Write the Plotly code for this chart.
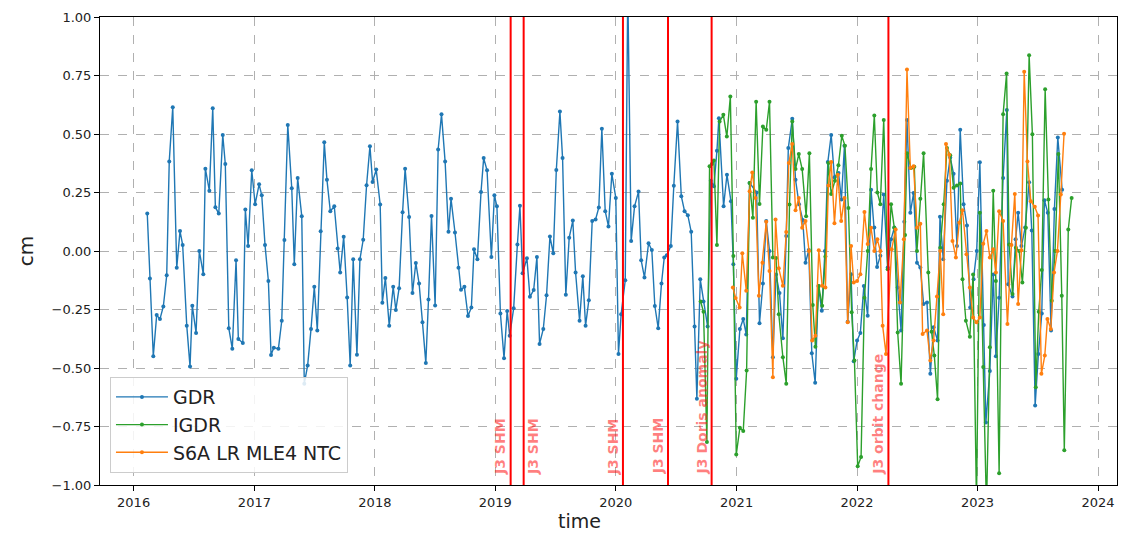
import datetime as dt
import plotly.graph_objects as go

# ---------------- data (decimal years, cm) ----------------
gdr_t = [2016.113, 2016.135, 2016.163, 2016.191, 2016.218, 2016.246, 2016.274, 2016.295, 2016.324, 2016.357,
         2016.384, 2016.406, 2016.440, 2016.467, 2016.486, 2016.517, 2016.544, 2016.577, 2016.594, 2016.627,
         2016.655, 2016.677, 2016.705, 2016.738, 2016.759, 2016.788, 2016.817, 2016.848, 2016.867, 2016.904,
         2016.925, 2016.948, 2016.978, 2017.006, 2017.039, 2017.061, 2017.088, 2017.116, 2017.138, 2017.161,
         2017.199, 2017.227, 2017.249, 2017.277, 2017.310, 2017.331, 2017.359, 2017.393, 2017.414, 2017.442,
         2017.470, 2017.497, 2017.522, 2017.550, 2017.580, 2017.602, 2017.630, 2017.663, 2017.691, 2017.712,
         2017.741, 2017.770, 2017.795, 2017.820, 2017.851, 2017.876, 2017.903, 2017.931, 2017.959, 2017.981,
         2018.011, 2018.044, 2018.062, 2018.087, 2018.119, 2018.152, 2018.174, 2018.201, 2018.230, 2018.251,
         2018.284, 2018.312, 2018.340, 2018.367, 2018.395, 2018.423, 2018.445, 2018.470, 2018.500, 2018.525,
         2018.553, 2018.583, 2018.611, 2018.632, 2018.665, 2018.694, 2018.715, 2018.743, 2018.773, 2018.801,
         2018.823, 2018.851, 2018.881, 2018.903, 2018.931, 2018.967, 2018.992, 2019.013, 2019.042, 2019.072,
         2019.098, 2019.119, 2019.152, 2019.183, 2019.204, 2019.226, 2019.262, 2019.287, 2019.318, 2019.345,
         2019.367, 2019.398, 2019.425, 2019.453, 2019.481, 2019.506, 2019.536, 2019.558, 2019.585, 2019.613,
         2019.643, 2019.666, 2019.699, 2019.726, 2019.749, 2019.776, 2019.804, 2019.832, 2019.859, 2019.884,
         2019.912, 2019.939, 2019.967, 2020.000, 2020.022, 2020.044, 2020.078, 2020.099, 2020.127, 2020.155,
         2020.188, 2020.210, 2020.237, 2020.271, 2020.298, 2020.323, 2020.351, 2020.378, 2020.401, 2020.422,
         2020.455, 2020.480, 2020.511, 2020.542, 2020.569, 2020.596, 2020.624, 2020.652, 2020.671, 2020.699,
         2020.726, 2020.760, 2020.786, 2020.812, 2020.837, 2020.853, 2020.892, 2020.920, 2020.953, 2020.973,
         2020.997, 2021.027, 2021.055, 2021.080, 2021.108, 2021.166, 2021.190, 2021.218, 2021.246, 2021.273,
         2021.301, 2021.327, 2021.356, 2021.384, 2021.412, 2021.429, 2021.462, 2021.489, 2021.518, 2021.549,
         2021.572, 2021.599, 2021.624, 2021.652, 2021.679, 2021.707, 2021.733, 2021.757, 2021.785, 2021.812,
         2021.846, 2021.870, 2021.895, 2021.922, 2021.950, 2021.972, 2022.000, 2022.027, 2022.056, 2022.088,
         2022.116, 2022.143, 2022.166, 2022.193, 2022.221, 2022.254, 2022.282, 2022.309, 2022.337, 2022.365,
         2022.392, 2022.414, 2022.442, 2022.469, 2022.497, 2022.525, 2022.552, 2022.580, 2022.608, 2022.635,
         2022.668, 2022.688, 2022.715, 2022.746, 2022.773, 2022.801, 2022.829, 2022.856, 2022.884, 2022.912,
         2022.939, 2022.967, 2022.993, 2023.019, 2023.052, 2023.069, 2023.102, 2023.130, 2023.152, 2023.179,
         2023.212, 2023.243, 2023.254, 2023.290, 2023.316, 2023.337, 2023.364, 2023.395, 2023.428, 2023.450,
         2023.478, 2023.505, 2023.533, 2023.555, 2023.583, 2023.610, 2023.638, 2023.666, 2023.702]
gdr_v = [0.16, -0.118, -0.45, -0.274, -0.291, -0.237, -0.104, 0.383, 0.614, -0.072,
         0.085, 0.026, -0.319, -0.494, -0.234, -0.35, 0.0, -0.099, 0.352, 0.258,
         0.61, 0.187, 0.16, 0.496, 0.372, -0.33, -0.418, -0.04, -0.376, -0.393,
         0.177, 0.021, 0.345, 0.2, 0.285, 0.238, 0.026, -0.128, -0.444, -0.413,
         -0.418, -0.298, 0.047, 0.538, 0.268, -0.057, 0.312, 0.149, -0.567, -0.489,
         -0.333, -0.153, -0.34, 0.084, 0.465, 0.305, 0.17, 0.191, 0.011, -0.092,
         0.061, -0.199, -0.489, -0.035, -0.443, -0.035, 0.048, 0.281, 0.448, 0.295,
         0.348, 0.199, -0.221, -0.115, -0.319, -0.153, -0.252, -0.159, 0.166, 0.352,
         0.145, -0.18, -0.051, -0.139, -0.305, -0.479, -0.207, 0.15, -0.233, 0.434,
         0.584, 0.382, 0.082, 0.223, 0.079, -0.072, -0.166, -0.153, -0.278, -0.241,
         0.007, -0.035, 0.252, 0.397, 0.345, -0.026, 0.238, 0.191, -0.267, -0.458,
         -0.256, -0.362, -0.245, 0.028, 0.193, -0.095, -0.031, -0.196, -0.167, -0.026,
         -0.397, -0.333, -0.189, 0.062, -0.01, 0.346, 0.596, 0.397, -0.187, 0.057,
         0.13, -0.092, -0.298, -0.108, -0.319, -0.21, 0.128, 0.135, 0.186, 0.522,
         0.17, 0.105, 0.33, 0.227, -0.44, -0.27, -0.125, 1.12, 0.043, 0.191,
         0.254, -0.04, -0.113, 0.033, 0.004, -0.235, -0.33, -0.139, -0.028, -0.018,
         0.021, 0.279, 0.553, 0.234, 0.17, 0.153, 0.082, -0.323, -0.631, -0.121,
         -0.216, -0.323, 0.3, 0.277, 0.428, 0.567, 0.191, 0.326, 0.213, -0.057,
         -0.546, -0.333, -0.291, -0.357, 0.291, 0.25, -0.309, -0.139, 0.128, 0.0,
         -0.454, -0.1, -0.18, -0.373, 0.064, 0.44, 0.565, 0.305, 0.2, 0.132,
         -0.05, 0.004, -0.437, -0.563, -0.15, -0.255, 0.0, 0.38, 0.496, 0.315,
         0.333, 0.22, 0.45, -0.302, -0.099, -0.471, -0.383, -0.35, -0.15, -0.277,
         0.262, 0.1, -0.068, -0.02, 0.241, -0.07, 0.05, 0.1, -0.156, -0.34,
         0.125, 0.56, 0.163, 0.248, -0.05, -0.071, -0.227, -0.22, -0.525, -0.326,
         -0.383, 0.146, -0.035, 0.3, 0.4, 0.33, 0.021, 0.518, 0.2, 0.109,
         -0.241, -0.121, 0.0, 0.379, -0.316, -0.733, -0.513, -0.1, -0.45, -0.2,
         0.312, 0.603, -0.142, -0.194, 0.05, 0.163, 0.021, 0.1, 0.294, 0.088,
         -0.66, -0.44, -0.267, 0.217, 0.163, -0.34, 0.18, 0.485, 0.262]

igdr_t = [2020.702, 2020.726, 2020.754, 2020.776, 2020.795, 2020.812, 2020.837, 2020.859, 2020.890, 2020.919,
          2020.948, 2020.973, 2020.997, 2021.027, 2021.055, 2021.083, 2021.108, 2021.135, 2021.162, 2021.190,
          2021.218, 2021.246, 2021.273, 2021.301, 2021.327, 2021.350, 2021.384, 2021.412, 2021.439, 2021.462,
          2021.489, 2021.516, 2021.544, 2021.577, 2021.604, 2021.632, 2021.654, 2021.682, 2021.710, 2021.737,
          2021.762, 2021.785, 2021.816, 2021.845, 2021.873, 2021.899, 2021.928, 2021.955, 2021.978, 2022.005,
          2022.033, 2022.061, 2022.088, 2022.116, 2022.143, 2022.168, 2022.193, 2022.221, 2022.254, 2022.282,
          2022.309, 2022.337, 2022.365, 2022.398, 2022.414, 2022.448, 2022.475, 2022.497, 2022.525, 2022.552,
          2022.591, 2022.618, 2022.641, 2022.668, 2022.690, 2022.719, 2022.746, 2022.773, 2022.801, 2022.829,
          2022.856, 2022.875, 2022.903, 2022.936, 2022.963, 2022.991, 2023.019, 2023.047, 2023.074, 2023.102,
          2023.130, 2023.152, 2023.179, 2023.212, 2023.241, 2023.262, 2023.290, 2023.318, 2023.345, 2023.372,
          2023.401, 2023.428, 2023.455, 2023.483, 2023.508, 2023.533, 2023.561, 2023.588, 2023.616, 2023.643,
          2023.671, 2023.699, 2023.720, 2023.753, 2023.781]
igdr_v = [-0.216, -0.26, -0.816, 0.362, 0.372, 0.387, 0.026, 0.553, 0.582, 0.489,
          0.66, -0.021, -0.87, -0.755, -0.769, -0.511, 0.291, 0.142, 0.638, 0.201,
          0.532, 0.518, 0.638, -0.028, -0.03, -0.27, -0.454, -0.567, 0.199, 0.553,
          0.35, 0.414, 0.35, 0.149, 0.418, -0.231, -0.409, -0.15, -0.234, -0.024,
          0.376, 0.244, 0.3, 0.366, 0.492, 0.45, 0.184, -0.262, -0.468, -0.92,
          -0.88, -0.2, 0.0, 0.35, 0.579, 0.25, 0.2, 0.56, -0.078, 0.2,
          0.099, -0.348, -0.567, 0.068, 0.418, 0.355, 0.36, 0.0, 0.223, 0.418,
          -0.092, -0.345, -0.447, -0.634, 0.014, 0.2, 0.44, 0.409, 0.27, 0.28,
          0.288, -0.121, -0.298, -0.366, -0.1, -1.08, 0.163, -0.496, -1.1, -0.411,
          0.258, -0.128, -0.95, 0.584, 0.759, 0.028, -0.184, 0.014, 0.0, -0.135,
          0.099, 0.837, 0.499, -0.582, -0.26, -0.081, 0.691, 0.22, -0.213, 0.0,
          0.414, -0.191, -0.851, 0.092, 0.227]

s6a_t = [2020.969, 2020.992, 2021.025, 2021.047, 2021.080, 2021.108, 2021.130, 2021.157, 2021.185, 2021.215,
         2021.246, 2021.273, 2021.301, 2021.323, 2021.350, 2021.384, 2021.412, 2021.433, 2021.462, 2021.489,
         2021.516, 2021.544, 2021.572, 2021.601, 2021.627, 2021.654, 2021.682, 2021.710, 2021.737, 2021.762,
         2021.785, 2021.812, 2021.840, 2021.868, 2021.895, 2021.922, 2021.950, 2021.972, 2022.000, 2022.027,
         2022.061, 2022.088, 2022.116, 2022.143, 2022.168, 2022.193, 2022.212, 2022.240, 2022.287, 2022.320,
         2022.356, 2022.388, 2022.414, 2022.442, 2022.469, 2022.497, 2022.525, 2022.544, 2022.580, 2022.608,
         2022.635, 2022.663, 2022.690, 2022.715, 2022.738, 2022.765, 2022.792, 2022.820, 2022.848, 2022.875,
         2022.908, 2022.936, 2022.963, 2022.991, 2023.019, 2023.047, 2023.074, 2023.102, 2023.130, 2023.152,
         2023.179, 2023.212, 2023.248, 2023.281, 2023.309, 2023.337, 2023.364, 2023.387, 2023.414, 2023.442,
         2023.475, 2023.502, 2023.530, 2023.558, 2023.580, 2023.608, 2023.635, 2023.663, 2023.691, 2023.718]
s6a_v = [-0.156, -0.201, -0.241, -0.01, -0.17, 0.255, 0.336, 0.227, -0.191, -0.05,
         0.125, -0.085, -0.54, 0.135, -0.074, -0.149, 0.081, 0.376, 0.457, 0.174,
         0.227, 0.099, 0.128, 0.0, -0.383, -0.362, 0.003, -0.149, -0.156, 0.28,
         0.38, 0.119, 0.326, 0.128, 0.227, -0.305, 0.021, -0.135, -0.128, -0.099,
         0.167, 0.03, 0.099, 0.0, 0.05, 0.0, -0.319, -0.44, 0.007, 0.092,
         -0.22, 0.05, 0.776, 0.355, 0.362, 0.099, 0.116, -0.355, -0.34, -0.468,
         -0.383, -0.194, 0.0, -0.27, 0.457, 0.411, 0.043, -0.028, 0.121, 0.174,
         -0.014, -0.156, -0.284, -0.305, -0.284, 0.031, 0.085, -0.028, 0.007, -0.092,
         0.17, 0.128, -0.312, 0.026, 0.244, -0.227, 0.003, 0.766, 0.383, 0.213,
         0.189, 0.152, -0.525, -0.447, -0.291, -0.333, -0.092, 0.0, 0.241, 0.501]

event_t = [2019.127, 2019.235, 2020.059, 2020.432, 2020.793, 2022.260]
event_labels = ["J3 SHM", "J3 SHM", "J3 SHM", "J3 SHM", "J3 Doris anomaly", "J3 orbit change"]
event_label_side = [-1, 1, -1, -1, -1, -1]

y_ticks = [-1.0, -0.75, -0.5, -0.25, 0.0, 0.25, 0.5, 0.75, 1.0]
x_range_years = [2015.721, 2024.157]


def dy(y):
    yr = int(y)
    start = dt.datetime(yr, 1, 1)
    end = dt.datetime(yr + 1, 1, 1)
    return start + (end - start) * (y - yr)


fig = go.Figure()
series = [("GDR", gdr_t, gdr_v, "#1f77b4"),
          ("IGDR", igdr_t, igdr_v, "#2ca02c"),
          ("S6A LR MLE4 NTC", s6a_t, s6a_v, "#ff7f0e")]
for name, t, v, c in series:
    fig.add_trace(go.Scatter(x=[dy(a) for a in t], y=v, name=name, mode="lines+markers",
                             line=dict(color=c, width=1.4), marker=dict(color=c, size=4)))

for t, lab, side in zip(event_t, event_labels, event_label_side):
    fig.add_shape(type="line", xref="x", yref="paper", x0=dy(t), x1=dy(t), y0=0, y1=1,
                  line=dict(color="red", width=2), layer="above")
    fig.add_annotation(x=dy(t), y=-0.965, xref="x", yref="y", text="<b>%s</b>" % lab,
                       textangle=-90, showarrow=False, xanchor="center", yanchor="bottom",
                       xshift=10 * side, font=dict(size=14, color="rgba(255,0,0,0.5)",
                                                   family="DejaVu Sans"))

fig.add_annotation(x=0.4715, y=-0.076, xref="paper", yref="paper", text="time", showarrow=False,
                   xanchor="center", yanchor="middle", font=dict(size=19, color="#222"))

fig.update_layout(
    width=1128, height=535, margin=dict(l=100, r=10, t=15, b=50),
    paper_bgcolor="white", plot_bgcolor="white",
    font=dict(family="DejaVu Sans", color="#222"),
    showlegend=True,
    legend=dict(x=0.0098, y=0.0255, xanchor="left", yanchor="bottom", bgcolor="rgba(255,255,255,0.85)",
                bordercolor="#cccccc", borderwidth=1, font=dict(size=19, color="#222"),
                itemwidth=52),
    xaxis=dict(range=[dy(x_range_years[0]), dy(x_range_years[1])], tickformat="%Y", dtick="M12",
               tick0="2016-01-01", showgrid=True, gridcolor="#b0b0b0", griddash="dash", gridwidth=1,
               showline=True, linecolor="black", linewidth=1, mirror=True, ticks="outside",
               ticklen=5, tickcolor="black", tickfont=dict(size=13), zeroline=False),
    yaxis=dict(range=[-1, 1], tickvals=y_ticks, tickformat=".2f", showgrid=True, gridcolor="#b0b0b0",
               griddash="dash", gridwidth=1, showline=True, linecolor="black", linewidth=1, mirror=True,
               ticks="outside", ticklen=5, tickcolor="black", tickfont=dict(size=13), zeroline=False,
               title=dict(text="cm", font=dict(size=20), standoff=12)),
)
fig.write_html("out.html")
